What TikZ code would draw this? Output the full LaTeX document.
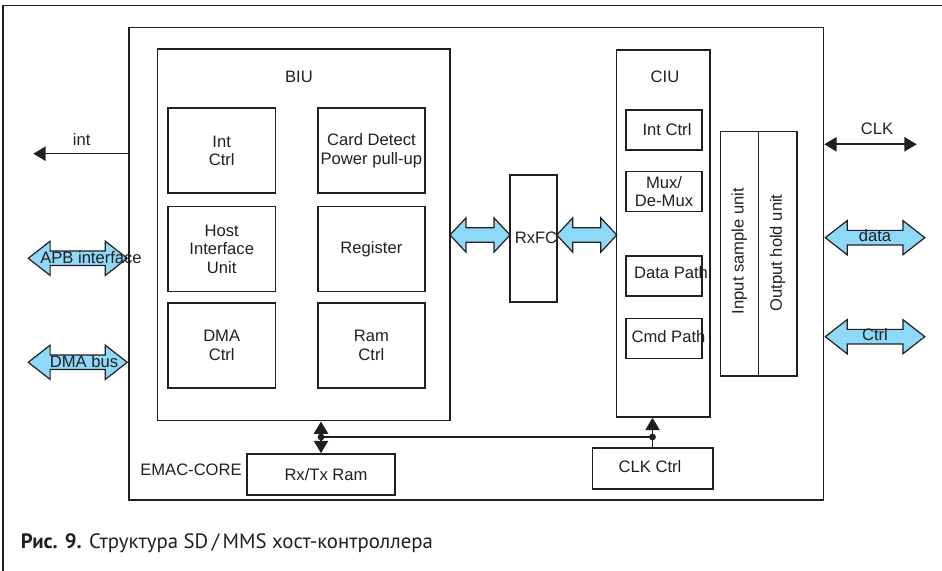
\documentclass[tikz,border=0pt]{standalone}
\usepackage{fontspec}
\setmainfont{Liberation Sans}
\newfontfamily\capfont{PT Sans}
\usetikzlibrary{arrows.meta,shapes.arrows,calc}
\definecolor{busblue}{RGB}{142,216,248}
\definecolor{ink}{RGB}{35,31,32}

\begin{document}
\begin{tikzpicture}[x=0.5pt,y=-0.5pt,font=\fontsize{8.3}{9.2}\selectfont,color=ink]
        \tikzset{blk/.style={draw, line width=0.8pt, inner sep=0pt, align=center},
                 fat/.style={double arrow, draw, fill=busblue, line width=0.6pt, inner sep=0pt,
                             double arrow head extend=4.9pt, double arrow tip angle=76},
                 sig/.style={line width=0.8pt, -{Triangle[length=6.2pt, width=7.2pt]}},
                 sigboth/.style={line width=0.8pt, {Triangle[length=6.2pt, width=7.2pt]}-{Triangle[length=6.2pt, width=7.2pt]}}}
        \newcommand{\shaft}{\rule{0pt}{6.7pt}}
        \useasboundingbox (0,0) rectangle (942,571);
        % page frame
        \draw[line width=0.8pt] (3,571) -- (3,5.7) -- (942,5.7);

        % EMAC core and BIU
        \node[blk, minimum width=347.25pt, minimum height=236.25pt] (core) at (476.25,263.75) {};
        \node[blk, minimum width=146.2pt, minimum height=185.7pt] (biu) at (303.8,235) {};
        \node (biulbl) at (299,77) {BIU};
        \node[blk, minimum width=53.7pt, minimum height=42.5pt] (intctrl) at (221.7,150.8) {Int\\Ctrl};
        \node[blk, minimum width=53.7pt, minimum height=42.5pt] (carddet) at (371.4,150.8) {Card Detect\\Power pull-up};
        \node[blk, minimum width=53.7pt, minimum height=42.5pt] (hostif) at (221.7,249.2) {Host\\Interface\\Unit};
        \node[blk, minimum width=53.7pt, minimum height=42.5pt] (register) at (371.4,249.2) {Register};
        \node[blk, minimum width=53.7pt, minimum height=42.5pt] (dmactrl) at (221.7,345.5) {DMA\\Ctrl};
        \node[blk, minimum width=53.7pt, minimum height=42.5pt] (ramctrl) at (371.4,345.5) {Ram\\Ctrl};

        % RxFC and CIU
        \node[blk, minimum width=23.5pt, minimum height=63.5pt] (rxfc) at (533.5,238.5) {};
        \node (rxfclbl) at (536,238) {RxFC};
        \node[blk, minimum width=46.8pt, minimum height=183.5pt] (ciu) at (663.3,233.5) {};
        \node (ciulbl) at (665,77) {CIU};
        \node[blk, minimum width=37.8pt, minimum height=20pt] (ciuint) at (664,130) {};
        \node (ciuintlbl) at (667,130) {Int Ctrl};
        \node[blk, minimum width=37.8pt, minimum height=20pt, align=center] (mux) at (664,191.7) {Mux/\\De-Mux};
        \node[blk, minimum width=37.8pt, minimum height=20pt] (datapath) at (664,276.2) {};
        \node (datapathlbl) at (671,273) {Data Path};
        \node[blk, minimum width=37.8pt, minimum height=20pt] (cmdpath) at (664,338.5) {};
        \node (cmdpathlbl) at (668.5,337) {Cmd Path};

        % sample / hold units
        \node[blk, minimum width=19pt, minimum height=122.2pt] (insample) at (739.3,253.9) {};
        \node[blk, minimum width=19.2pt, minimum height=122.2pt] (outhold) at (777.5,253.9) {};
        \node[rotate=90] (inlbl) at (739.3,251) {Input sample unit};
        \node[rotate=90] (outlbl) at (777.5,253) {Output hold unit};

        % bottom blocks
        \node[blk, minimum width=74.2pt, minimum height=20.5pt] (rxtx) at (321,474.5) {};
        \node (rxtxlbl) at (326,475) {Rx/Tx Ram};
        \node[blk, minimum width=60.2pt, minimum height=20.7pt] (clkctrl) at (652.5,468.4) {};
        \node (clkctrllbl) at (650,467) {CLK Ctrl};
        \node (emaclbl) at (191,470) {EMAC-CORE};

        % internal bus
        \coordinate (busy) at (0,437);
        \coordinate (busdot) at (rxtx.north |- busy);
        \coordinate (clkdot) at (clkctrl.north |- busy);
        \draw[sigboth] (rxtx.north |- biu.south) -- (rxtx.north);
        \draw[line width=0.8pt] (busdot) -- (clkdot);
        \draw[sig] (clkctrl.north) -- (clkctrl.north |- ciu.south);
        \fill (busdot) circle[radius=1.7pt];
        \fill (clkdot) circle[radius=1.7pt];

        % fat buses
        \node[fat, minimum height=30pt, double arrow tip angle=94] (biufc) at ($(biu.east)!0.5!(rxfc.west |- biu.east)$) {\shaft};
        \node[fat, minimum height=30pt, double arrow tip angle=94] (fcciu) at ($(rxfc.east |- biu.east)!0.5!(ciu.west |- biu.east)$) {\shaft};
        \coordinate (apby) at (0,258.3);
        \coordinate (dmay) at (0,362.3);
        \coordinate (datay) at (0,237.7);
        \coordinate (ctrly) at (0,336.7);
        \node[fat, minimum height=49.5pt, anchor=east] (apb) at (core.west |- apby) {\shaft};
        \node (apblbl) at (91,258) {APB interface};
        \node[fat, minimum height=49.5pt, anchor=east] (dmabus) at (core.west |- dmay) {\shaft};
        \node (dmabuslbl) at (84,362) {DMA bus};
        \node[fat, minimum height=49.75pt, anchor=west] (data) at (core.east |- datay) {\shaft};
        \node (datalbl) at (875,236) {data};
        \node[fat, minimum height=49.75pt, anchor=west] (ctrl) at (core.east |- ctrly) {\shaft};
        \node (ctrllbl) at (875,335) {Ctrl};

        % int and CLK lines
        \coordinate (intend) at (33.3,153.7);
        \draw[sig] (core.west |- intend) -- (intend);
        \node (intlbl) at (81.7,140) {int};
        \coordinate (clkend) at (916.7,144.3);
        \draw[sigboth] (core.east |- clkend) -- (clkend);
        \node (clklbl) at (877,129) {CLK};

        % caption
        \node[anchor=base west, inner sep=0pt] (caption) at (20.5,548) {\capfont\fontsize{10.4}{12}\selectfont\textbf{Рис. 9.} Структура SD\thinspace/\thinspace MMS хост-контроллера};
\end{tikzpicture}
\end{document}
